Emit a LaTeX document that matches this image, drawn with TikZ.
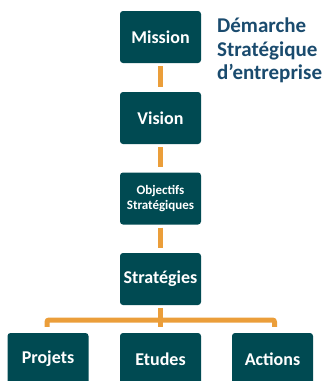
\documentclass[tikz,border=0pt]{standalone}
\usepackage{fontspec}
\setmainfont{Carlito}
\usetikzlibrary{calc}
\definecolor{boxfill}{HTML}{004A52}
\definecolor{conn}{HTML}{EB9E3A}
\definecolor{titleblue}{HTML}{1A4B6E}
\tikzset{
  box/.style={fill=boxfill, rounded corners=3pt, minimum width=81pt, minimum height=52pt, inner sep=0pt, text=white, font=\bfseries\fontsize{18}{20}\selectfont, align=center},
  smallbox/.style={box, font=\bfseries\fontsize{13}{15.5}\selectfont},
  connline/.style={draw=conn, line width=5pt},
}
\begin{document}
\begin{tikzpicture}[x=1pt,y=-1pt]
\useasboundingbox (0,0) rectangle (327,381);
\clip (0,0) rectangle (327,381);
\node[box] (mission) at (160.5,37) {Mission};
\node[box] (vision) at (160.5,118) {Vision};
\node[smallbox] (obj) at (160.5,198.5) {Objectifs\\Stratégiques};
\node[box] (strat) at (160.5,279) {Stratégies};
\node[box] (projets) at (48,359) {Projets};
\node[box] (etudes) at (160.5,359) {Etudes};
\node[box] (actions) at (272.5,359) {Actions};
\node[anchor=north west, inner sep=0pt, align=left, text=titleblue, font=\bfseries\fontsize{21}{23.5}\selectfont] (title) at (217,18) {Démarche\\Stratégique\\d’entreprise};
\draw[connline, shorten <=3pt, shorten >=5pt] (mission) -- (vision);
\draw[connline, shorten <=3pt, shorten >=5pt] (vision) -- (obj);
\draw[connline, shorten <=3pt, shorten >=5pt] (obj) -- (strat);
\draw[connline, shorten <=3pt, shorten >=6pt] (strat) -- (etudes);
\coordinate (bar) at (160.5,320);
\draw[connline, rounded corners=2pt] ($(projets.north)+(-1,-6)$) |- (bar) -| ($(actions.north)+(2,-6)$);
\end{tikzpicture}
\end{document}
